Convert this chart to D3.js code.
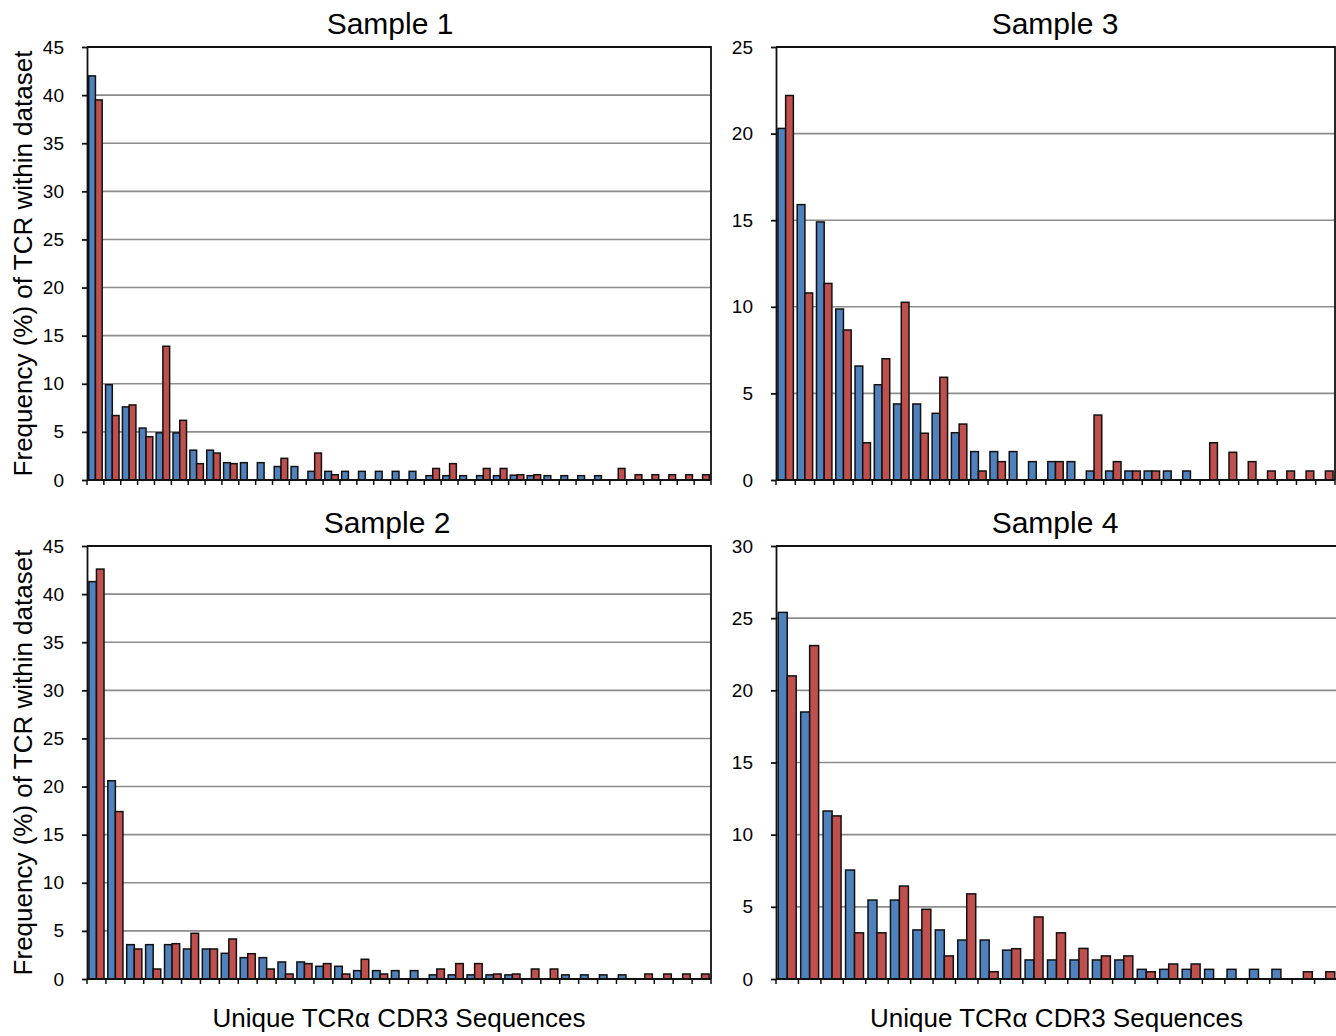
<!DOCTYPE html>
<html>
<head>
<meta charset="utf-8">
<script src="https://cdn.jsdelivr.net/npm/d3@7"></script>
<style>
  body { margin: 0; background: #fff; }
  svg { display: block; font-family: "Liberation Sans", Arial, sans-serif; }
</style>
</head>
<body>
<div id="chart"></div>
<script>
// values (% of TCR within dataset)
var s1Blue = [42, 9.9, 7.6, 5.4, 4.9, 4.9, 3.1, 3.1, 1.8, 1.8, 1.8, 1.4, 1.4, 0.9, 0.9, 0.9, 0.9, 0.9, 0.9,
              0.9, 0.45, 0.45, 0.45, 0.45, 0.45, 0.5, 0.45, 0.45, 0.45, 0.45, 0.45, 0, 0, 0, 0, 0, 0];
var s1Red  = [39.5, 6.7, 7.8, 4.5, 13.9, 6.2, 1.7, 2.8, 1.7, 0, 0, 2.25, 0, 2.8, 0.55, 0, 0, 0, 0,
              0, 1.2, 1.7, 0, 1.2, 1.2, 0.55, 0.55, 0, 0, 0, 0, 1.2, 0.55, 0.55, 0.55, 0.55, 0.55];

var s2Blue = [41.3, 20.6, 3.57, 3.57, 3.57, 3.12, 3.12, 2.67, 2.22, 2.22, 1.77, 1.77, 1.32, 1.32, 0.87, 0.87, 0.87,
              0.87, 0.43, 0.43, 0.43, 0.43, 0.43, 0, 0, 0.43, 0.43, 0.43, 0.43, 0, 0, 0, 0];
var s2Red  = [42.6, 17.4, 3.12, 1.04, 3.67, 4.75, 3.12, 4.16, 2.63, 1.04, 0.52, 1.6, 1.6, 0.52, 2.05, 0.52, 0,
              0, 1.04, 1.6, 1.6, 0.52, 0.52, 1.04, 1.04, 0, 0, 0, 0, 0.52, 0.52, 0.52, 0.52];

var s3Blue = [20.3, 15.9, 14.9, 9.87, 6.58, 5.5, 4.39, 4.39, 3.85, 2.73, 1.64, 1.64, 1.64, 1.06, 1.06,
              1.06, 0.52, 0.52, 0.52, 0.52, 0.52, 0.52, 0, 0, 0, 0, 0, 0, 0];
var s3Red  = [22.2, 10.8, 11.35, 8.66, 2.15, 7.0, 10.26, 2.7, 5.93, 3.23, 0.52, 1.06, 0, 0, 1.06,
              0, 3.75, 1.06, 0.52, 0.52, 0, 0, 2.15, 1.6, 1.06, 0.52, 0.52, 0.52, 0.52];

var s4Blue = [25.4, 18.5, 11.64, 7.55, 5.47, 5.47, 3.4, 3.4, 2.7, 2.7, 2.0, 1.32, 1.32,
              1.32, 1.32, 1.32, 0.67, 0.67, 0.67, 0.67, 0.67, 0.67, 0.67, 0, 0];
var s4Red  = [21.0, 23.1, 11.3, 3.2, 3.2, 6.44, 4.83, 1.6, 5.9, 0.5, 2.1, 4.3, 3.2,
              2.12, 1.6, 1.6, 0.5, 1.04, 1.04, 0, 0, 0, 0, 0.5, 0.5];

var ticks45 = [0, 5, 10, 15, 20, 25, 30, 35, 40, 45];
var ticks25 = [0, 5, 10, 15, 20, 25];
var ticks30 = [0, 5, 10, 15, 20, 25, 30];

var series = ["blue", "red"];
var colors = { blue: "#4f81bd", red: "#c0504d" };

var yTitle = "Frequency (%) of TCR within dataset";
var xTitle = "Unique TCR\u03b1 CDR3 Sequences";

var W = 1336, H = 1036;
var svg = d3.select("#chart").append("svg")
    .attr("width", W)
    .attr("height", H);

function drawPanel(p) {
    var n = p.blue.length;
    var cats = d3.range(n);
    var g = svg.append("g");

    var x = d3.scaleBand().domain(cats).range([p.x0, p.x1]);
    var bw = x.bandwidth();
    var xs = d3.scaleBand().domain(series).range([0.1 * bw, 0.9 * bw]);
    var y = d3.scaleLinear().domain([0, p.max]).range([p.y1, p.y0]);

    // gridlines
    g.selectAll(".grid")
        .data(p.ticks.slice(1, -1))
        .enter().append("line")
        .attr("x1", p.x0).attr("x2", p.x1)
        .attr("y1", d => y(d)).attr("y2", d => y(d))
        .attr("stroke", "#8c8c8c")
        .attr("stroke-width", 1.6);

    // bars
    var rows = [];
    cats.forEach(function(i) {
        rows.push({ i: i, s: "blue", v: p.blue[i] });
        rows.push({ i: i, s: "red", v: p.red[i] });
    });
    g.selectAll(".bar")
        .data(rows.filter(d => d.v > 0))
        .enter().append("rect")
        .attr("x", d => x(d.i) + xs(d.s))
        .attr("width", xs.bandwidth())
        .attr("y", d => y(d.v))
        .attr("height", d => y(0) - y(d.v))
        .attr("fill", d => colors[d.s])
        .attr("stroke", "#111")
        .attr("stroke-width", 1.5);

    // frame (top & right)
    g.append("path")
        .attr("d", `M${p.x0},${p.y0}H${p.x1}V${p.y1}`)
        .attr("fill", "none")
        .attr("stroke", "#111")
        .attr("stroke-width", 1.8);

    // y axis
    var yAxis = d3.axisLeft(y).tickValues(p.ticks).tickSize(5).tickPadding(18).tickSizeOuter(0);
    var ya = g.append("g")
        .attr("transform", `translate(${p.x0},0)`)
        .call(yAxis);
    ya.select(".domain").attr("stroke", "#111").attr("stroke-width", 1.8);
    ya.selectAll(".tick line").attr("stroke", "#111").attr("stroke-width", 1.8);
    ya.selectAll(".tick text")
        .attr("font-size", 19)
        .attr("font-family", "Liberation Sans, Arial, sans-serif")
        .attr("fill", "#000");

    // x axis: ticks at category boundaries
    var bounds = d3.range(n + 1).map(k => p.x0 + k * bw);
    g.append("line")
        .attr("x1", p.x0).attr("x2", p.x1)
        .attr("y1", p.y1).attr("y2", p.y1)
        .attr("stroke", "#111").attr("stroke-width", 1.8);
    g.selectAll(".xt")
        .data(bounds)
        .enter().append("line")
        .attr("x1", d => d).attr("x2", d => d)
        .attr("y1", p.y1).attr("y2", p.y1 + 5)
        .attr("stroke", "#111").attr("stroke-width", 1.5);

    // title
    g.append("text")
        .attr("x", p.titleX)
        .attr("y", p.y0 - 13)
        .attr("text-anchor", "middle")
        .attr("font-size", 30)
        .text(p.title);

    if (p.yTitle) {
        g.append("text")
            .attr("transform", `translate(32,${(p.y0 + p.y1) / 2}) rotate(-90)`)
            .attr("text-anchor", "middle")
            .attr("font-size", 26)
            .text(yTitle);
    }
    if (p.xTitle) {
        g.append("text")
            .attr("x", (p.x0 + p.x1) / 2)
            .attr("y", 1027)
            .attr("text-anchor", "middle")
            .attr("font-size", 26)
            .text(xTitle);
    }
}

drawPanel({ title: "Sample 1", blue: s1Blue, red: s1Red, max: 45, ticks: ticks45,
            x0: 87, x1: 711, y0: 47, y1: 480, titleX: 390, yTitle: true });
drawPanel({ title: "Sample 3", blue: s3Blue, red: s3Red, max: 25, ticks: ticks25,
            x0: 776, x1: 1335, y0: 47, y1: 480, titleX: 1055 });
drawPanel({ title: "Sample 2", blue: s2Blue, red: s2Red, max: 45, ticks: ticks45,
            x0: 87, x1: 711, y0: 546, y1: 979, titleX: 387, yTitle: true, xTitle: true });
drawPanel({ title: "Sample 4", blue: s4Blue, red: s4Red, max: 30, ticks: ticks30,
            x0: 776, x1: 1337, y0: 546, y1: 979, titleX: 1055, xTitle: true });
</script>
</body>
</html>
